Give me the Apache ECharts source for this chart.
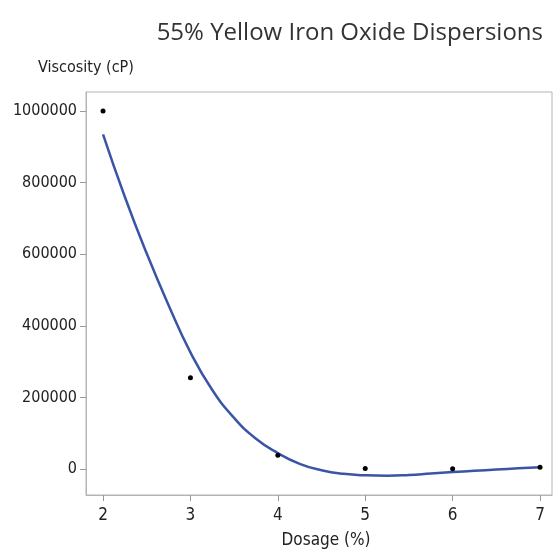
<!DOCTYPE html>
<html>
<head>
<meta charset="utf-8">
<script src="https://cdn.jsdelivr.net/npm/echarts@6/dist/echarts.min.js"></script>
<style>
  html, body { margin: 0; padding: 0; background: #fff; }
  #chart { width: 560px; height: 552px; }
</style>
</head>
<body>
<div id="chart"></div>
<script>
// measured points
const dosage = [2, 3, 4, 5, 6, 7];
const viscosity = [1000000, 255000, 39000, 2000, 1000, 5500];

// fitted curve
const fitX = [2, 2.25, 2.5, 2.75, 3, 3.25, 3.5, 3.75, 4, 4.25, 4.5, 4.75, 5, 5.25, 5.5, 5.75, 6, 6.25, 6.5, 6.75, 7];
const fitY = [935000, 760000, 602000, 458000, 326000, 221000, 143000, 85000, 45000, 15000, -3000, -13000, -17000, -18000, -16000, -12000, -8000, -4500, -1000, 2500, 5500];

const xTicks = [2, 3, 4, 5, 6, 7];
const yTicks = [0, 200000, 400000, 600000, 800000, 1000000];

const narrow = "'DejaVu Sans Condensed', sans-serif";
const frameColor = '#b4b4b4';
const tickColor = '#9a9a9a';

const chart = echarts.init(document.getElementById('chart'));

const option = {
  animation: false,
  title: {
    text: '55% Yellow Iron Oxide Dispersions',
    right: 12,
    top: 16,
    textStyle: { fontFamily: "'Open Sans', sans-serif", fontWeight: 'normal', fontSize: 24, color: '#333' }
  },
  grid: {
    left: 86, top: 92, right: 8, bottom: 57,
    outerBoundsMode: 'none',
    show: true, borderColor: frameColor, borderWidth: 1
  },
  xAxis: {
    type: 'value',
    min: 1.805, max: 7.137,
    name: 'Dosage (%)',
    nameLocation: 'middle',
    nameGap: 37,
    nameTextStyle: { fontFamily: narrow, fontSize: 17, color: '#222', padding: [0, 0, 0, 14] },
    axisLine: { show: true, onZero: false, lineStyle: { color: frameColor } },
    splitLine: { show: false },
    axisTick: { show: true, inside: false, length: 6, customValues: xTicks, lineStyle: { color: tickColor, width: 1 } },
    axisLabel: { customValues: xTicks, margin: 12, fontFamily: narrow, fontSize: 17, color: '#222' }
  },
  yAxis: {
    type: 'value',
    min: -72000, max: 1053000,
    name: 'Viscosity (cP)',
    nameLocation: 'end',
    nameGap: 16,
    nameTextStyle: { fontFamily: narrow, fontSize: 16, color: '#222' },
    axisLine: { show: true, onZero: false, lineStyle: { color: frameColor } },
    splitLine: { show: false },
    axisTick: { show: true, inside: false, length: 6, customValues: yTicks, lineStyle: { color: tickColor, width: 1 } },
    axisLabel: {
      customValues: yTicks, margin: 9, fontFamily: narrow, fontSize: 16, color: '#222',
      formatter: v => String(v)
    }
  },
  series: [
    {
      type: 'line',
      data: fitX.map((x, i) => [x, fitY[i]]),
      smooth: true,
      showSymbol: false,
      lineStyle: { color: '#3a55a6', width: 2.5 },
      z: 2
    },
    {
      type: 'scatter',
      data: dosage.map((x, i) => [x, viscosity[i]]),
      symbolSize: 5,
      itemStyle: { color: '#000', opacity: 1 },
      z: 3
    }
  ]
};

chart.setOption(option);
</script>
</body>
</html>
